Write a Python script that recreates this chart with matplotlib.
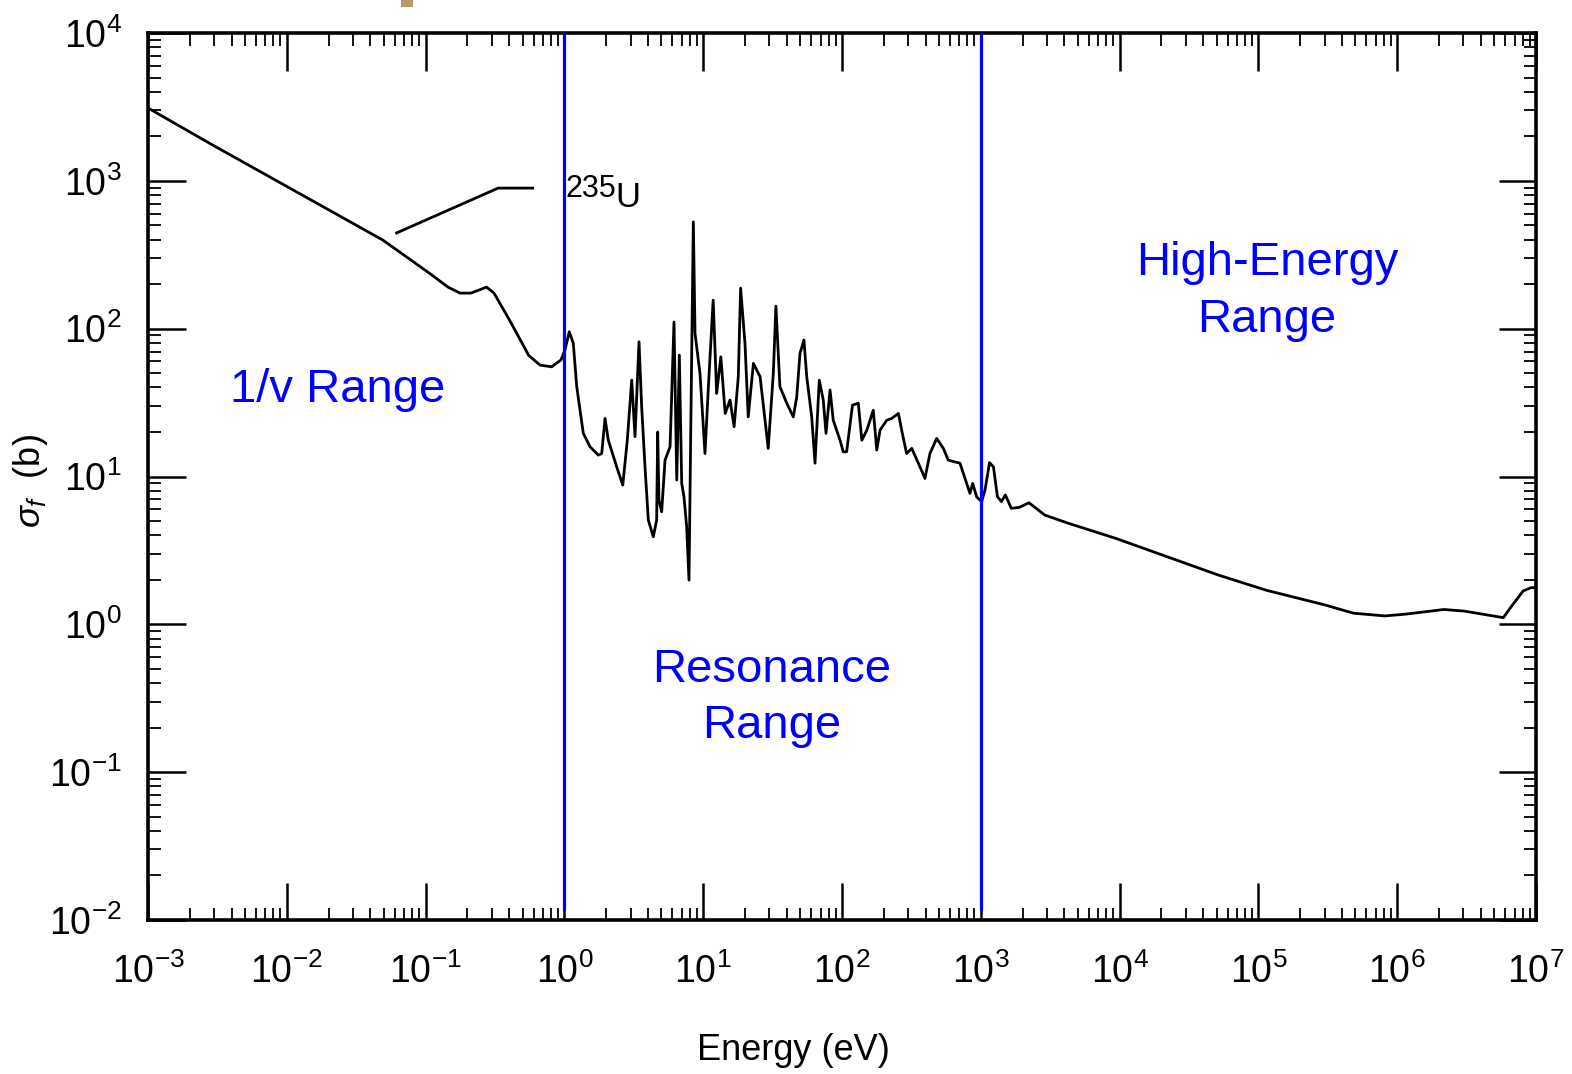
import numpy as np
import matplotlib
matplotlib.use('Agg')
import matplotlib.pyplot as plt
from matplotlib.ticker import LogLocator, NullFormatter
from matplotlib.patches import Rectangle

plt.rcParams['font.family'] = ['Liberation Sans', 'DejaVu Sans']
plt.rcParams['mathtext.fontset'] = 'custom'
plt.rcParams['mathtext.rm'] = 'Liberation Sans'
plt.rcParams['mathtext.it'] = 'Liberation Sans:italic'
plt.rcParams['mathtext.bf'] = 'Liberation Sans:bold'

# ---- data: U-235 fission cross section ----
energy_eV = [
    0.001, 0.00292, 0.0493, 0.106, 0.145, 0.177, 0.212, 0.275, 0.311, 0.403,
    0.553, 0.667, 0.809, 0.944, 1.009, 1.084, 1.159, 1.227, 1.368, 1.529,
    1.754, 1.857, 1.962, 2.072, 2.382, 2.633, 2.839, 3.054, 3.226, 3.447,
    3.603, 3.808, 4.024, 4.37, 4.62, 4.70, 4.80, 5.02, 5.31, 5.77,
    6.16, 6.45, 6.73, 7.00, 7.27, 7.60, 7.90, 8.13, 8.49, 8.73,
    9.48, 10.3, 10.9, 11.8, 12.5, 13.4, 14.4, 15.6, 16.7, 17.9,
    18.6, 20.0, 21.1, 23.0, 25.7, 29.4, 32.0, 33.4, 35.7, 40.0,
    44.6, 47.2, 49.8, 53.2, 55.7, 60.5, 63.9, 68.6, 73.3, 76.7,
    82.0, 86.5, 96.8, 102, 108, 119, 131, 139, 151, 168,
    178, 188, 210, 228, 255, 269, 292, 318, 365, 396,
    430, 481, 537, 583, 708, 791, 835, 874, 933, 1014,
    1072, 1156, 1234, 1318, 1407, 1502, 1659, 1891, 2224, 2895,
    4293, 9420, 22100, 51800, 114000, 304000, 482000, 815000, 1.13e6, 2.17e6,
    3.02e6, 5.82e6, 6.64e6, 8.07e6, 9.2e6, 1.0e7,
]
sigma_b = [
    3110, 1747, 397, 238, 191, 174, 174, 191, 174, 114,
    66, 56.7, 55.2, 61.4, 71.6, 95.3, 79.6, 40.5, 19.6, 15.9,
    13.96, 14.3, 24.7, 17.6, 11.6, 8.75, 17.6, 44.9, 18.6, 81.5,
    29.6, 11.6, 5.07, 3.91, 5.07, 20.0, 6.92, 5.77, 12.9, 15.9,
    111, 9.46, 66.2, 8.98, 7.29, 4.57, 1.99, 19.6, 528, 92.9,
    49.9, 14.3, 40.5, 156, 36.5, 64.5, 26.7, 32.9, 21.7, 47.3,
    188, 79.6, 25.3, 58.2, 47.3, 15.5, 49.9, 142, 40.5, 31.3,
    25.3, 34.6, 68.1, 83.8, 47.3, 25.3, 12.3, 44.9, 32.9, 19.6,
    38.5, 24.0, 17.6, 14.7, 14.7, 30.4, 31.3, 17.6, 20.6, 28.1,
    15.1, 20.6, 24.0, 24.7, 26.7, 20.6, 14.3, 15.5, 11.6, 9.70,
    14.3, 18.1, 15.5, 12.9, 12.3, 8.98, 7.69, 8.98, 7.29, 6.75,
    8.10, 12.4, 11.6, 7.30, 6.76, 7.50, 6.09, 6.18, 6.64, 5.48,
    4.82, 3.81, 2.86, 2.15, 1.70, 1.35, 1.19, 1.14, 1.17, 1.26,
    1.23, 1.11, 1.32, 1.68, 1.77, 1.77,
]

range_boundaries_eV = [1.0, 1.0e3]
boundary_sigma_span = [0.0116, 1.0e4]

region_labels = ['1/v Range', 'Resonance', 'Range', 'High-Energy', 'Range']
region_label_pos = [(0.0234, 31.9), (31.3, 0.406), (31.3, 0.170),
                    (115300, 230.6), (115300, 94.8)]

leader_E = [0.0618, 0.333, 0.590]
leader_sigma = [444, 893, 893]

x_lim = (1e-3, 1e7)
y_lim = (1e-2, 1e4)

# ---- figure ----
fig = plt.figure(figsize=(15.72, 10.74), dpi=100)
ax = fig.add_axes([0.09415, 0.14339, 0.88295, 0.82588])
ax.set_xscale('log')
ax.set_yscale('log')
ax.set_xlim(*x_lim)
ax.set_ylim(*y_lim)

ax.plot(energy_eV, sigma_b, color='black', lw=2.0, solid_joinstyle='round')

ax.vlines(range_boundaries_eV, boundary_sigma_span[0], boundary_sigma_span[1],
          colors='#0000FF', lw=2.3, zorder=3)

# 235U annotation
ax.plot(leader_E, leader_sigma, color='black', lw=2.0)
ax.text(1.01, 776, '235', fontsize=22, ha='left', va='baseline', color='black')
ax.text(2.315, 665, 'U', fontsize=25, ha='left', va='baseline', color='black')

for lab, (ex, sy) in zip(region_labels, region_label_pos):
    ax.text(ex, sy, lab, fontsize=34, color='#0000FF', ha='center', va='baseline')

# ticks
for axis in (ax.xaxis, ax.yaxis):
    axis.set_major_locator(LogLocator(base=10, numticks=30))
    axis.set_minor_locator(LogLocator(base=10, subs=np.arange(2, 10), numticks=300))
    axis.set_minor_formatter(NullFormatter())

ax.tick_params(which='both', direction='in', top=True, right=True, color='black')
ax.tick_params(which='major', length=27, width=1.8, labelsize=27)
ax.tick_params(which='minor', length=9, width=1.3)
ax.tick_params(axis='y', which='major', pad=19)
ax.tick_params(axis='x', which='major', pad=24)

for sp in ax.spines.values():
    sp.set_linewidth(2.6)

fig.text(793 / 1572, 1 - 1050 / 1074, 'Energy (eV)', fontsize=26,
         ha='center', va='center')
fig.text(30 / 1572, 1 - 481 / 1074, r'$\sigma_f$  (b)', fontsize=26,
         rotation=90, ha='center', va='center')

# small tan mark at the very top of the scan
fig.patches.append(Rectangle((401 / 1572, 1 - 7 / 1074), 12 / 1572, 7 / 1074,
                             transform=fig.transFigure, color='#B59A6A', lw=0))

fig.savefig('out.png', dpi=100)
